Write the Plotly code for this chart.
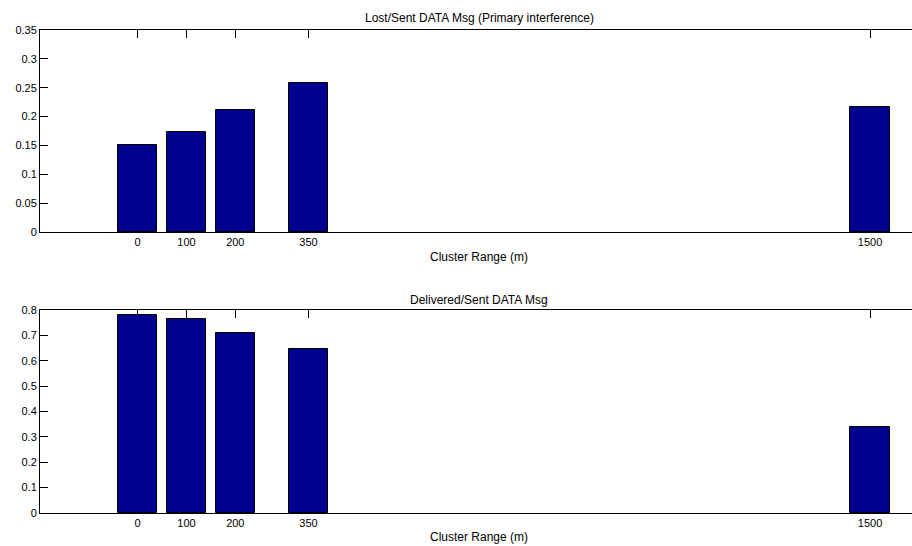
import plotly.graph_objects as go

cluster_range = [0, 100, 200, 350, 1500]
lost_ratio = [0.1513, 0.1738, 0.2109, 0.2587, 0.2166]
delivered_ratio = [0.780, 0.764, 0.708, 0.6476, 0.3408]
x_tick_labels = ["0", "100", "200", "350", "1500"]
top_y_ticks = [0, 0.05, 0.1, 0.15, 0.2, 0.25, 0.3, 0.35]
top_y_labels = ["0", "0.05", "0.1", "0.15", "0.2", "0.25", "0.3", "0.35"]
bot_y_ticks = [0, 0.1, 0.2, 0.3, 0.4, 0.5, 0.6, 0.7, 0.8]
bot_y_labels = ["0", "0.1", "0.2", "0.3", "0.4", "0.5", "0.6", "0.7", "0.8"]
top_title = "Lost/Sent DATA Msg (Primary interference)"
bot_title = "Delivered/Sent DATA Msg"
x_title = "Cluster Range (m)"

W, H = 912, 546
FONT = "Liberation Sans, Arial, sans-serif"
BAR_COLOR = "#00008F"

def py(p):
    return 1 - p / H

fig = go.Figure()
fig.add_trace(go.Bar(x=cluster_range, y=lost_ratio, width=80, marker=dict(color=BAR_COLOR, line=dict(color="black", width=1)), xaxis="x", yaxis="y", showlegend=False))
fig.add_trace(go.Bar(x=cluster_range, y=delivered_ratio, width=80, marker=dict(color=BAR_COLOR, line=dict(color="black", width=1)), xaxis="x2", yaxis="y2", showlegend=False))

xcommon = dict(range=[-200, 1586], tickvals=cluster_range, ticktext=x_tick_labels, ticks="inside", ticklen=8,
               tickcolor="black", showline=True, linecolor="black", linewidth=1, mirror="ticks", showgrid=False,
               zeroline=False, layer="below traces", tickfont=dict(size=11, color="black", family=FONT), automargin=False)
ycommon = dict(ticks="inside", ticklen=8, tickcolor="black", showline=True, linecolor="black", linewidth=1,
               showgrid=False, zeroline=False, tickfont=dict(size=11, color="black", family=FONT), automargin=False)

top_dom = [py(232), py(30)]
bot_dom = [py(513), py(310)]

fig.update_layout(
    width=W, height=H, margin=dict(l=40, r=0, t=0, b=0),
    paper_bgcolor="white", plot_bgcolor="white",
    font=dict(family=FONT, color="black"),
    bargap=0,
    xaxis=dict(domain=[0, 1], anchor="y", **xcommon),
    yaxis=dict(domain=top_dom, range=[0, 0.35], tickvals=top_y_ticks, ticktext=top_y_labels, anchor="x", **ycommon),
    xaxis2=dict(domain=[0, 1], anchor="y2", **xcommon),
    yaxis2=dict(domain=bot_dom, range=[0, 0.8], tickvals=bot_y_ticks, ticktext=bot_y_labels, anchor="x2", **ycommon),
    yaxis3=dict(overlaying="y", side="right", range=[0, 0.35], tickvals=top_y_ticks, ticks="inside", ticklen=8,
                tickcolor="black", showticklabels=False, showline=False, showgrid=False, zeroline=False, anchor="x"),
    yaxis4=dict(overlaying="y2", side="right", range=[0, 0.8], tickvals=bot_y_ticks, ticks="inside", ticklen=8,
                tickcolor="black", showticklabels=False, showline=False, showgrid=False, zeroline=False, anchor="x2"),
)

ann_font = dict(size=12, color="black", family=FONT)
for text, ypix in [(top_title, 18), (x_title, 257), (bot_title, 300), (x_title, 537)]:
    fig.add_annotation(text=text, x=700, xref="x", y=py(ypix), yref="paper", showarrow=False,
                       xanchor="center", yanchor="middle", font=ann_font)

fig.write_html("out.html", config={"displayModeBar": False},
               post_script="document.body.style.margin='0px';document.body.style.padding='0px';")
